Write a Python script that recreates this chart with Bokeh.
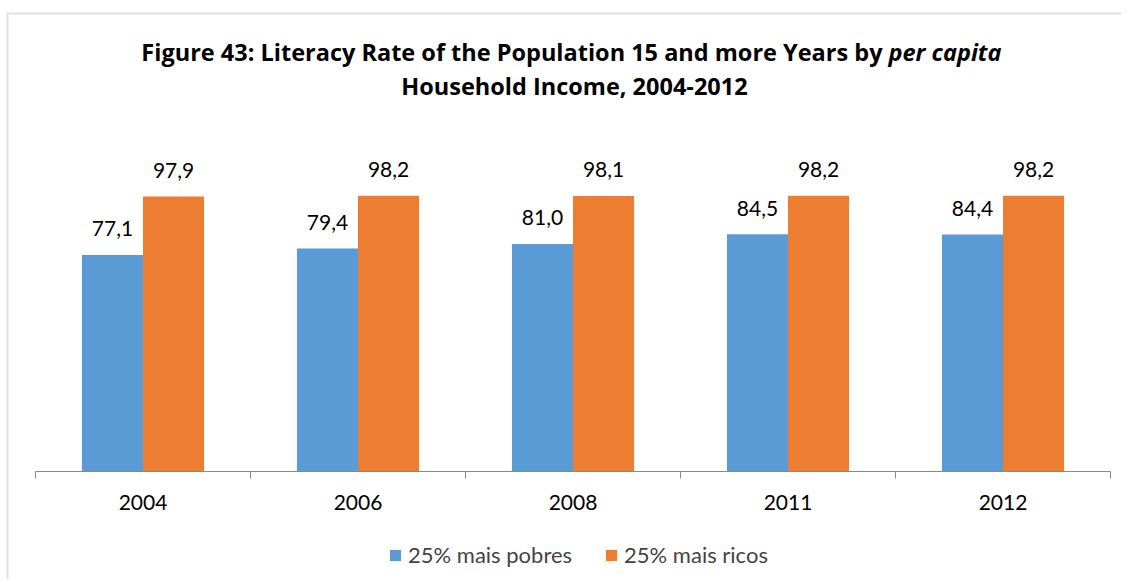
from bokeh.plotting import figure
from bokeh.models import (Range1d, LinearAxis, FixedTicker, BoxAnnotation,
                          Legend, LegendItem, Label, ColumnDataSource)
from bokeh.transform import dodge
from bokeh.core.properties import value
from bokeh.embed import file_html
from bokeh.resources import INLINE

# ---- data ----
years = ["2004", "2006", "2008", "2011", "2012"]
poorest = [77.1, 79.4, 81.0, 84.5, 84.4]
richest = [97.9, 98.2, 98.1, 98.2, 98.2]
series_names = ["25% mais pobres", "25% mais ricos"]
title_main = "Figure 43: Literacy Rate of the Population 15 and more Years by"
title_italic = "per capita"
title_line2 = "Household Income, 2004-2012"


def fmt(v):
    return f"{v:.1f}".replace(".", ",")


n = len(years)
centers = [i + 0.5 for i in range(n)]  # category slot centres on the numeric x scale

src = ColumnDataSource(dict(
    xc=centers, poor=poorest, rich=richest,
    poor_lbl=[fmt(v) for v in poorest], rich_lbl=[fmt(v) for v in richest]))

BLUE = "#5B9BD5"
ORANGE = "#ED7D31"
AXIS = "#898989"
FONT = "Lato"
TITLE_FONT = "Open Sans"

WIDTH, HEIGHT = 1121, 579
SLOT_PX = 215.0          # width of one category slot in pixels
LEFT_PX = 35.0           # x pixel where the first slot starts
BASE_PX = 471.0          # y pixel of the value axis zero line
PX_PER_UNIT = 2.809      # vertical pixels per percentage point

x_range = Range1d(-LEFT_PX / SLOT_PX, (WIDTH - LEFT_PX) / SLOT_PX)
y_range = Range1d(-(HEIGHT - BASE_PX) / PX_PER_UNIT, BASE_PX / PX_PER_UNIT)

p = figure(x_range=x_range, y_range=y_range,
           width=WIDTH, height=HEIGHT, output_backend="svg", toolbar_location=None,
           x_axis_location=None, y_axis_location=None,
           min_border_left=0, min_border_right=0, min_border_top=0, min_border_bottom=0,
           outline_line_color=None, background_fill_color="white", border_fill_color="white")
p.grid.visible = False

# chart-area border (left and top edges visible)
p.add_layout(BoxAnnotation(left=7, right=WIDTH + 100, top=HEIGHT - 13, bottom=-100,
                           left_units="screen", right_units="screen",
                           top_units="screen", bottom_units="screen",
                           fill_alpha=0, line_color="#9A9A9A", line_width=2))

# axis line with tick marks at category boundaries
tick_axis = LinearAxis(fixed_location=0, bounds=(0, n),
                       ticker=FixedTicker(ticks=list(range(n + 1)), minor_ticks=[]),
                       axis_line_color=AXIS, axis_line_width=1,
                       major_tick_line_color=AXIS, major_tick_out=7, major_tick_in=0,
                       minor_tick_line_color=None,
                       major_label_overrides={i: "" for i in range(n + 1)},
                       major_label_text_font_size="1px", major_label_standoff=0)
# category labels at slot centres
cat_axis = LinearAxis(fixed_location=0, bounds=(0, n),
                      ticker=FixedTicker(ticks=centers, minor_ticks=[]),
                      axis_line_color=None, major_tick_line_color=None,
                      major_tick_out=0, major_tick_in=0,
                      minor_tick_line_color=None,
                      major_label_overrides={c: y for c, y in zip(centers, years)},
                      major_label_text_font=FONT, major_label_text_font_size="21px",
                      major_label_text_color="#000000", major_label_standoff=23)
p.add_layout(tick_axis, "below")
p.add_layout(cat_axis, "below")

W = 0.284
r1 = p.vbar(x=dodge("xc", -W / 2), top="poor", width=W, source=src,
            fill_color=BLUE, line_color=None)
r2 = p.vbar(x=dodge("xc", W / 2), top="rich", width=W, source=src,
            fill_color=ORANGE, line_color=None)

for off, col, lbl in [(-W / 2, "poor", "poor_lbl"), (W / 2, "rich", "rich_lbl")]:
    p.text(x=dodge("xc", off), y=col, text=lbl, source=src,
           text_align="center", text_baseline="alphabetic", y_offset=-26,
           text_font=value(FONT), text_font_size="21px", text_color="#000000")

legend = Legend(items=[LegendItem(label=series_names[0], renderers=[r1]),
                       LegendItem(label=series_names[1], renderers=[r2])],
                orientation="horizontal", location=(388, 11),
                border_line_color=None, background_fill_alpha=0,
                glyph_width=14, glyph_height=14, label_standoff=6, spacing=32,
                label_text_font=FONT, label_text_font_size="22px",
                margin=0, padding=0)
p.add_layout(legend, "center")

# titles (screen units from the frame's bottom-left corner)
p.add_layout(Label(x=882, y=HEIGHT - 51, x_units="screen", y_units="screen", text=title_main,
                   text_align="right", text_baseline="alphabetic",
                   text_font=TITLE_FONT, text_font_size="23.5px", text_font_style="bold",
                   text_color="#000000"))
p.add_layout(Label(x=888, y=HEIGHT - 51, x_units="screen", y_units="screen", text=title_italic,
                   text_align="left", text_baseline="alphabetic",
                   text_font=TITLE_FONT, text_font_size="23.5px", text_font_style="bold italic",
                   text_color="#000000"))
p.add_layout(Label(x=574, y=HEIGHT - 85, x_units="screen", y_units="screen", text=title_line2,
                   text_align="center", text_baseline="alphabetic",
                   text_font=TITLE_FONT, text_font_size="23.5px", text_font_style="bold",
                   text_color="#000000"))

open("out.html", "w").write(file_html(p, INLINE))
